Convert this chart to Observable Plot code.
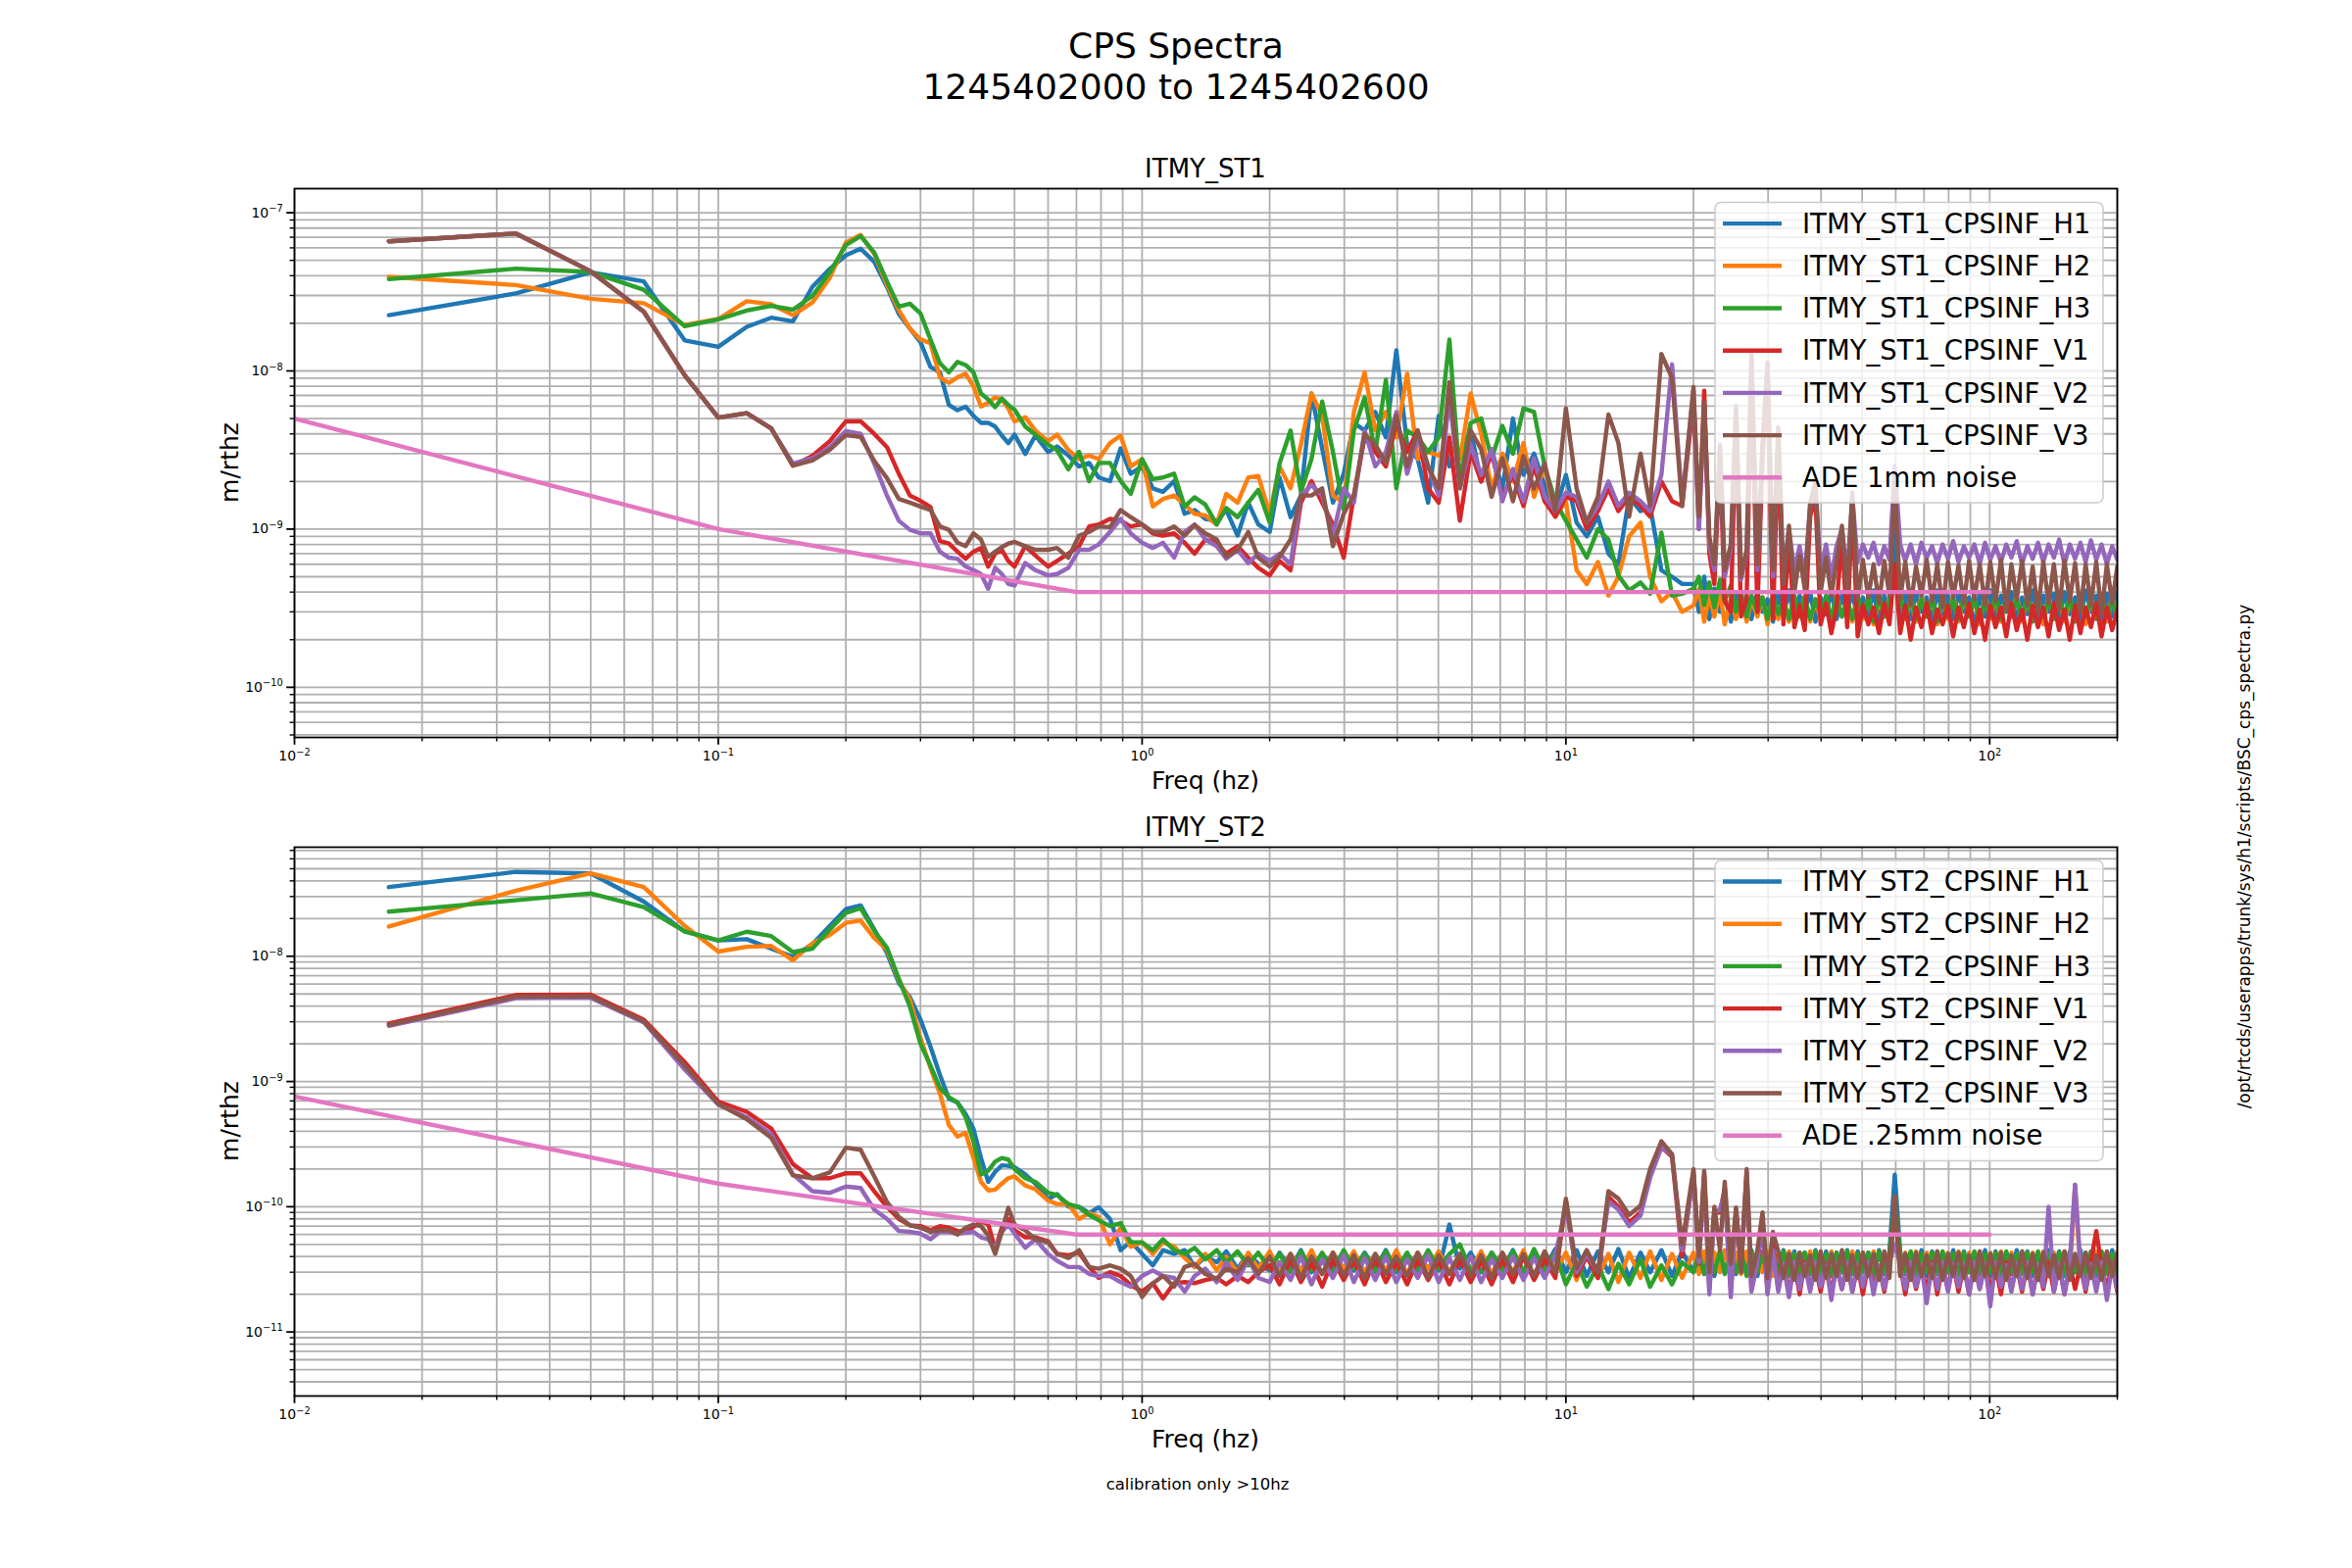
<!DOCTYPE html>
<html><head><meta charset="utf-8">
<script src="https://cdn.jsdelivr.net/npm/d3@7"></script>
<script src="https://cdn.jsdelivr.net/npm/@observablehq/plot@0.6"></script>
<style>
html,body{margin:0;padding:0;background:#fff;}
#fig{position:relative;width:2400px;height:1600px;background:#fff;font-family:"DejaVu Sans",sans-serif;overflow:hidden;}
#fig svg{position:absolute;left:0;}
#side{position:absolute;left:2290px;top:874px;transform:translate(-50%,-50%) rotate(-90deg);white-space:nowrap;font-size:17px;font-family:"DejaVu Sans",sans-serif;color:#000;}
</style></head><body><div id="fig"></div>
<script>
// ---------------- data (amplitudes in nm/rtHz) ----------------
const NM = 1e-9;
const freq = [0.0167,0.0333,0.05,0.0667,0.0833,0.1,0.1167,0.1333,0.15,0.1667,0.1833,0.2,0.2167,0.2333,0.25,0.2667,0.2833,0.3,0.3167,0.3333,0.35,0.3667,0.3833,0.4,0.4167,0.4333,0.45,0.4667,0.4833,0.5,
0.53,0.56,0.6,0.63,0.67,0.71,0.75,0.79,0.84,0.89,0.94,
1.0,1.06,1.12,1.19,1.26,1.33,1.41,1.5,1.58,1.68,1.78,1.88,
2.0,2.11,2.24,2.37,2.51,2.66,2.82,2.99,3.16,3.35,3.55,3.76,3.98,4.22,4.47,4.73,5.01,5.31,5.62,5.96,
6.31,6.68,7.08,7.5,7.94,8.41,8.91,9.44,
10.0,10.6,11.2,11.9,12.6,13.3,14.1,15.0,15.8,16.8,17.8,18.8,
20.0,20.6,21.2,21.8,22.4,23.1,23.7,24.5,25.2,25.9,
26.7,27.4,28.3,29.1,29.9,30.8,31.7,32.6,33.6,34.6,
35.6,36.6,37.7,38.8,39.9,41.1,42.3,43.5,44.8,46.1,
47.4,48.8,50.2,51.7,53.2,54.8,56.4,58.0,59.7,61.5,
63.2,65.1,67.0,69.0,71.0,73.1,75.2,77.4,79.7,82.0,
84.4,86.9,89.4,92.0,94.7,97.5,100.3,103.2,106.3,109.4,
112.5,115.8,119.2,122.7,126.3,130.0,133.8,137.7,141.7,145.8,
150.1,154.5,159.0,163.7,168.4,173.3,178.4,183.6,189.0,194.5,
200];

const st1H1 = [22.5,30.9,42,36.8,15.6,14.2,19,21.7,20.6,34,44.2,53.8,59.3,49,34,22.9,18.5,15.2,10.6,9.8,6.1,5.65,5.95,5.2,4.7,4.7,4.45,3.9,3.5,3.96,
2.99,3.9,3.08,3.33,2.92,2.49,2.62,2.12,2.01,3.24,2.24,
2.49,1.81,1.72,2.01,1.25,1.32,1.16,1.13,1.32,0.91,1.47,1.07,
0.96,2.12,1.19,1.63,7.2,3.24,1.47,2.24,4.7,4.2,5.5,3.8,13.5,3.42,2.77,1.47,5.2,2.49,3.08,4.2,
2.0,3.2,1.8,5.0,2.2,3.0,1.9,1.3,
2.2,1.1,0.9,1.2,0.7,0.6,1.6,1.3,1.4,0.55,0.5,0.45,
0.45,0.3,0.5,0.27,0.42,0.3,0.38,0.26,0.4,0.29,
0.37,0.27,0.4,0.3,0.36,0.26,0.39,0.28,0.41,0.27,
0.38,0.3,0.4,0.26,0.37,0.29,0.41,0.27,0.38,0.3,
0.4,0.27,0.37,0.29,0.41,0.26,0.38,0.3,1.0,0.28,
0.39,0.27,0.4,0.3,0.37,0.26,0.41,0.29,0.38,0.27,
0.4,0.3,0.37,0.24,0.39,0.28,0.41,0.27,0.38,0.3,
0.4,0.26,0.37,0.29,0.41,0.27,0.38,0.3,0.39,0.26,
0.4,0.29,0.37,0.27,0.41,0.3,0.38,0.26,0.39,0.28,
0.4];
const st1H2 = [39.3,34.9,28.6,26.8,19.5,21.3,27.6,26.4,22.5,27.1,38.8,64.9,72.4,55,35,24.2,18.5,15.8,15,9.1,8.4,9.1,9.6,8.0,5.96,6.3,6.8,6.6,5.8,4.8,
5.1,4.2,3.6,3.96,3.16,2.77,2.92,2.77,3.5,3.9,2.49,
2.77,1.39,1.55,1.63,1.43,1.25,1.22,1.07,1.67,1.47,2.12,2.17,
1.25,2.49,1.81,3.42,7.2,5.2,1.63,1.47,5.5,9.8,4.2,5.5,3.8,9.6,2.77,3.08,2.92,3.42,2.77,7.2,
4.0,1.8,3.0,2.0,3.5,1.6,2.5,1.2,
1.5,0.55,0.45,0.62,0.38,0.5,0.9,1.1,0.5,0.35,0.4,0.3,
0.33,0.42,0.26,0.38,0.28,0.4,0.25,0.36,0.27,0.38,
0.26,0.36,0.28,0.37,0.25,0.38,0.27,0.36,0.26,0.37,
0.28,0.38,0.26,0.36,0.27,0.37,0.25,0.38,0.28,0.36,
0.26,0.37,0.27,0.38,0.25,0.36,0.28,0.37,0.5,0.38,
0.27,0.36,0.26,0.38,0.28,0.37,0.25,0.36,0.27,0.38,
0.26,0.37,0.28,0.36,0.25,0.38,0.27,0.37,0.26,0.36,
0.28,0.38,0.26,0.37,0.27,0.36,0.25,0.38,0.28,0.37,
0.26,0.36,0.27,0.38,0.25,0.37,0.28,0.36,0.26,0.38,
0.27];
const st1H3 = [38,44.3,42.2,32.6,19.2,21.2,24.1,25.8,24.4,29.8,42,62.5,71.3,56,36.8,25.5,26.6,23.1,15.8,11.2,9.8,11.4,10.9,9.8,7.2,6.6,5.9,6.7,6.1,5.7,
4.45,3.96,3.42,3.16,2.39,3.08,2.01,2.62,2.62,2.01,1.67,
2.77,2.07,2.12,2.24,1.39,1.59,1.43,1.07,1.36,1.19,1.47,1.77,
1.1,2.6,4.2,1.72,2.77,6.4,3.08,1.32,4.2,6.8,3.08,8.8,1.81,4.2,3.8,3.08,3.8,15.8,2.01,4.7,
5.0,2.8,4.5,3.0,5.8,5.5,2.5,1.5,
1.13,0.86,0.66,1.0,0.86,0.51,0.41,0.46,0.39,0.95,0.38,0.39,
0.42,0.5,0.33,0.46,0.32,0.48,0.35,0.44,0.3,0.4,
0.28,0.38,0.3,0.37,0.27,0.38,0.29,0.36,0.27,0.38,
0.28,0.37,0.27,0.36,0.29,0.38,0.27,0.37,0.28,0.36,
0.27,0.38,0.28,0.37,0.26,0.38,0.28,0.36,0.6,0.37,
0.28,0.38,0.27,0.36,0.28,0.37,0.26,0.38,0.28,0.36,
0.27,0.38,0.28,0.37,0.26,0.36,0.28,0.38,0.27,0.37,
0.28,0.36,0.27,0.38,0.26,0.37,0.28,0.36,0.27,0.38,
0.28,0.37,0.26,0.38,0.28,0.36,0.27,0.37,0.28,0.36,
0.27];
const st1V1 = [66,74,42.6,23.7,9.4,5.07,5.4,4.33,2.52,2.9,3.6,4.8,4.8,4.0,3.3,2.24,1.63,1.51,1.38,0.84,0.81,0.72,0.65,0.72,0.76,0.58,0.70,0.74,0.63,0.58,
0.78,0.68,0.58,0.63,0.70,0.78,1.04,1.07,1.16,1.13,1.04,
1.07,0.94,0.91,0.94,0.82,0.70,0.86,0.82,0.70,0.78,0.66,0.57,
0.51,0.63,0.55,1.47,2.01,1.47,1.07,0.66,1.63,3.8,3.08,2.49,4.7,3.08,4.2,1.81,1.47,3.8,1.13,3.08,
2.0,3.0,1.6,2.2,1.4,2.5,1.5,1.2,
1.6,1.5,1.0,1.3,1.8,1.3,1.6,1.4,1.2,2.0,1.5,1.4,
6.5,1.0,7.5,0.7,0.45,2.8,0.35,0.3,5.0,0.28,
0.36,10,0.3,2.8,9.0,0.27,3.5,0.25,0.9,0.24,
0.33,0.23,1.2,1.6,0.25,0.34,0.22,0.32,0.9,0.24,
1.4,0.21,0.33,0.25,0.32,0.22,0.34,0.25,0.6,0.22,
0.33,0.2,0.32,0.24,0.34,0.22,0.31,0.25,0.33,0.21,
0.32,0.24,0.34,0.22,0.31,0.2,0.33,0.24,0.32,0.21,
0.34,0.23,0.31,0.2,0.33,0.24,0.32,0.21,0.34,0.23,
0.31,0.2,0.33,0.22,0.32,0.24,0.34,0.21,0.32,0.23,
0.31];
const st1V2 = [66,74,42.6,23.7,9.4,5.07,5.4,4.33,2.6,2.8,3.3,4.17,4.0,2.6,1.63,1.13,0.99,0.94,0.94,0.72,0.66,0.65,0.58,0.55,0.52,0.42,0.57,0.52,0.45,0.44,
0.61,0.55,0.51,0.52,0.57,0.74,0.74,0.80,0.96,1.16,0.94,
0.82,0.76,0.82,0.66,0.96,1.07,0.86,0.78,0.65,0.74,0.61,0.70,
0.63,0.70,0.60,1.63,1.9,1.63,0.91,1.81,1.47,4.2,2.49,3.08,5.5,2.24,3.8,2.49,1.63,6.7,1.81,3.42,
2.2,3.2,1.5,2.4,1.5,2.8,1.6,1.3,
1.7,1.6,1.1,1.4,2.0,1.4,1.7,1.5,1.3,2.2,11,1.5,
7.5,1.0,6.0,0.8,0.55,3.2,0.5,0.75,5.5,0.48,
0.72,12.0,0.55,3.2,11.0,0.5,4.2,0.5,1.0,0.55,
0.78,0.5,1.4,1.9,0.55,0.8,0.5,0.78,1.0,0.52,
1.6,0.62,0.8,0.66,0.82,0.6,0.78,0.64,2.5,0.8,
0.63,0.8,0.6,0.82,0.66,0.78,0.61,0.8,0.65,0.84,
0.62,0.78,0.66,0.8,0.6,0.82,0.64,0.78,0.62,0.8,
0.66,0.84,0.6,0.78,0.65,0.82,0.62,0.8,0.66,0.86,
0.6,0.8,0.65,0.82,0.62,0.85,0.64,0.8,0.6,0.78,
0.64];
const st1V3 = [66,74,42.6,23.7,9.4,5.07,5.4,4.33,2.52,2.72,3.18,3.93,3.83,2.7,2.1,1.55,1.47,1.39,1.32,1.04,0.99,0.82,0.78,0.94,0.86,0.67,0.72,0.77,0.81,0.83,
0.78,0.74,0.74,0.76,0.66,0.91,0.96,1.04,1.03,1.32,1.19,
1.07,0.96,0.96,1.04,0.91,1.06,0.94,0.86,0.67,0.74,0.96,0.66,
0.58,0.67,0.86,1.63,1.63,1.81,0.78,1.25,1.63,4.0,3.42,2.62,5.2,2.49,4.2,2.49,1.81,8.5,1.81,4.2,
3.2,1.6,2.8,1.5,2.9,1.8,2.6,1.3,
5.8,1.8,1.1,1.6,5.3,3.5,1.2,3.0,1.4,12.8,9.0,1.4,
7.9,1.2,6.3,0.9,0.6,3.4,0.55,0.8,6.0,0.5,
0.75,12.8,0.6,3.4,11.3,0.55,4.4,0.45,1.05,0.4,
0.68,0.42,1.47,2.0,0.4,0.66,0.38,0.62,1.05,0.4,
1.7,0.36,0.64,0.37,0.6,0.34,0.63,0.38,2.0,0.36,
0.62,0.33,0.58,0.38,0.64,0.35,0.6,0.32,0.62,0.37,
0.59,0.34,0.63,0.36,0.6,0.33,0.62,0.35,0.64,0.31,
0.6,0.36,0.63,0.33,0.58,0.3,0.62,0.34,0.6,0.31,
0.63,0.35,0.61,0.3,0.6,0.33,0.62,0.29,0.6,0.34,
0.58];

const st2H1 = [35.7,47.2,45.9,27.3,15.8,13.4,13.7,11.5,9.9,12.5,17.5,23.8,25.5,16.4,10.6,6.1,4.7,3.12,1.9,1.13,0.73,0.68,0.55,0.42,0.245,0.158,0.19,0.214,0.212,0.207,
0.181,0.153,0.115,0.126,0.10,0.10,0.089,0.099,0.080,0.045,0.053,
0.042,0.034,0.045,0.042,0.045,0.033,0.040,0.036,0.044,0.032,0.042,0.035,
0.031,0.043,0.032,0.045,0.030,0.042,0.033,0.044,0.031,0.043,0.032,0.045,0.030,0.042,0.033,0.044,0.031,0.072,0.032,0.043,
0.03,0.043,0.032,0.045,0.03,0.044,0.032,0.046,
0.03,0.045,0.028,0.044,0.03,0.046,0.027,0.043,0.03,0.045,0.028,0.044,
0.03,0.044,0.029,0.043,0.028,0.045,0.03,0.044,0.029,0.043,
0.03,0.045,0.028,0.044,0.03,0.043,0.029,0.045,0.03,0.044,
0.028,0.043,0.03,0.045,0.029,0.044,0.028,0.043,0.03,0.045,
0.029,0.044,0.03,0.043,0.028,0.045,0.029,0.044,0.18,0.043,
0.029,0.043,0.03,0.045,0.028,0.044,0.029,0.043,0.03,0.045,
0.028,0.044,0.03,0.043,0.029,0.045,0.028,0.044,0.03,0.043,
0.029,0.045,0.03,0.044,0.028,0.043,0.029,0.045,0.03,0.044,
0.028,0.043,0.03,0.045,0.029,0.044,0.028,0.043,0.03,0.045,
0.029];
const st2H2 = [17.3,33.4,45.9,35.7,17.5,10.9,11.9,12.1,9.3,12.7,14.8,18.5,19.3,14,11.3,6.4,4.5,2.22,1.29,0.80,0.45,0.364,0.389,0.245,0.158,0.135,0.137,0.153,0.169,0.175,
0.148,0.138,0.112,0.105,0.105,0.080,0.089,0.083,0.050,0.068,0.048,
0.052,0.042,0.052,0.048,0.039,0.033,0.042,0.031,0.040,0.030,0.043,0.032,
0.044,0.03,0.042,0.031,0.045,0.029,0.043,0.032,0.044,0.03,0.042,0.031,0.045,0.029,0.043,0.032,0.044,0.03,0.042,0.031,
0.044,0.029,0.043,0.03,0.045,0.028,0.044,0.03,
0.043,0.026,0.044,0.027,0.042,0.025,0.043,0.027,0.044,0.026,0.042,0.027,
0.043,0.029,0.044,0.028,0.043,0.03,0.045,0.028,0.043,0.029,
0.044,0.028,0.043,0.03,0.044,0.028,0.043,0.029,0.044,0.028,
0.043,0.03,0.044,0.028,0.043,0.029,0.044,0.028,0.043,0.03,
0.044,0.028,0.043,0.029,0.044,0.028,0.043,0.03,0.12,0.028,
0.043,0.029,0.044,0.028,0.043,0.03,0.044,0.028,0.043,0.029,
0.044,0.028,0.043,0.03,0.044,0.028,0.043,0.029,0.044,0.028,
0.043,0.03,0.044,0.028,0.043,0.029,0.044,0.028,0.043,0.03,
0.044,0.028,0.15,0.029,0.043,0.028,0.044,0.03,0.043,0.028,
0.044];
const st2H3 = [22.7,28,31.8,24.7,15.8,13.4,15.7,14.5,10.8,11.5,16.4,22.2,24.2,16,11.7,6.6,3.95,2.0,1.34,0.89,0.75,0.68,0.52,0.333,0.181,0.194,0.229,0.245,0.238,0.20,
0.169,0.158,0.129,0.124,0.105,0.099,0.086,0.078,0.070,0.074,0.052,
0.052,0.045,0.055,0.045,0.042,0.047,0.038,0.045,0.036,0.044,0.034,0.043,
0.032,0.042,0.03,0.044,0.031,0.043,0.03,0.045,0.032,0.042,0.03,0.044,0.031,0.043,0.03,0.045,0.032,0.042,0.05,0.031,
0.03,0.043,0.031,0.044,0.03,0.046,0.031,0.043,
0.024,0.036,0.023,0.034,0.022,0.035,0.024,0.038,0.023,0.034,0.024,0.036,
0.03,0.042,0.029,0.043,0.03,0.044,0.029,0.042,0.03,0.043,
0.028,0.044,0.03,0.042,0.029,0.043,0.03,0.044,0.028,0.042,
0.03,0.043,0.029,0.044,0.03,0.042,0.028,0.043,0.03,0.044,
0.029,0.042,0.03,0.043,0.028,0.044,0.03,0.042,0.11,0.043,
0.03,0.044,0.028,0.042,0.03,0.043,0.029,0.044,0.03,0.042,
0.028,0.043,0.03,0.044,0.029,0.042,0.03,0.043,0.028,0.044,
0.03,0.042,0.029,0.043,0.03,0.044,0.028,0.042,0.03,0.043,
0.029,0.044,0.03,0.042,0.028,0.043,0.03,0.044,0.029,0.042,
0.03];
const st2V1 = [2.91,4.91,4.94,3.12,1.43,0.69,0.573,0.422,0.219,0.169,0.169,0.185,0.185,0.133,0.10,0.080,0.071,0.070,0.065,0.070,0.068,0.064,0.063,0.069,0.076,0.073,0.046,0.068,0.080,0.065,
0.057,0.057,0.053,0.042,0.041,0.043,0.033,0.027,0.030,0.028,0.0237,
0.021,0.0245,0.0185,0.0245,0.025,0.0245,0.026,0.027,0.024,0.028,0.025,0.030,
0.034,0.024,0.038,0.025,0.036,0.023,0.038,0.026,0.037,0.024,0.039,0.025,0.036,0.024,0.038,0.026,0.037,0.024,0.038,0.025,
0.037,0.024,0.038,0.025,0.040,0.026,0.038,0.027,
0.11,0.028,0.040,0.027,0.12,0.10,0.075,0.090,0.18,0.30,0.25,0.040,
0.19,0.035,0.18,0.022,0.09,0.09,0.14,0.021,0.09,0.034,
0.18,0.022,0.036,0.07,0.021,0.05,0.022,0.034,0.021,0.035,
0.02,0.036,0.022,0.034,0.021,0.035,0.02,0.034,0.022,0.036,
0.021,0.034,0.02,0.035,0.022,0.034,0.021,0.036,0.09,0.034,
0.02,0.035,0.022,0.034,0.021,0.036,0.02,0.034,0.022,0.035,
0.021,0.034,0.02,0.036,0.022,0.035,0.021,0.034,0.02,0.036,
0.022,0.034,0.021,0.035,0.02,0.034,0.022,0.036,0.021,0.034,
0.02,0.035,0.022,0.034,0.021,0.036,0.064,0.034,0.022,0.035,
0.021];
const st2V2 = [2.78,4.62,4.66,2.97,1.25,0.656,0.518,0.381,0.181,0.133,0.129,0.145,0.141,0.095,0.080,0.064,0.063,0.061,0.055,0.063,0.063,0.061,0.062,0.063,0.057,0.055,0.047,0.063,0.072,0.061,
0.047,0.055,0.042,0.037,0.033,0.033,0.029,0.028,0.028,0.025,0.023,
0.028,0.031,0.028,0.027,0.021,0.028,0.032,0.025,0.036,0.026,0.038,0.027,
0.025,0.036,0.026,0.040,0.024,0.038,0.027,0.041,0.025,0.039,0.026,0.040,0.025,0.038,0.027,0.041,0.025,0.039,0.026,0.040,
0.025,0.038,0.027,0.040,0.026,0.039,0.027,0.041,
0.10,0.030,0.042,0.030,0.11,0.095,0.07,0.085,0.17,0.30,0.26,0.045,
0.18,0.036,0.17,0.02,0.09,0.095,0.13,0.019,0.098,0.035,
0.19,0.021,0.036,0.08,0.02,0.045,0.021,0.035,0.019,0.036,
0.022,0.035,0.021,0.036,0.023,0.034,0.018,0.035,0.022,0.036,
0.021,0.035,0.023,0.036,0.02,0.034,0.022,0.036,0.05,0.035,
0.022,0.036,0.023,0.034,0.017,0.035,0.022,0.036,0.021,0.035,
0.023,0.034,0.02,0.036,0.022,0.035,0.016,0.036,0.023,0.034,
0.021,0.035,0.022,0.036,0.02,0.034,0.023,0.10,0.021,0.035,
0.02,0.036,0.15,0.034,0.022,0.035,0.021,0.036,0.018,0.034,
0.022];
const st2V3 = [2.83,4.75,4.79,3.02,1.34,0.66,0.50,0.356,0.178,0.169,0.188,0.296,0.285,0.175,0.109,0.083,0.071,0.068,0.063,0.065,0.065,0.060,0.068,0.072,0.070,0.059,0.042,0.063,0.098,0.072,
0.065,0.055,0.052,0.042,0.039,0.045,0.033,0.032,0.034,0.032,0.028,
0.019,0.0245,0.028,0.023,0.033,0.035,0.029,0.0265,0.032,0.030,0.039,0.029,
0.040,0.028,0.042,0.027,0.040,0.029,0.043,0.028,0.041,0.027,0.042,0.029,0.040,0.028,0.043,0.027,0.041,0.029,0.042,0.028,
0.041,0.027,0.043,0.029,0.042,0.028,0.044,0.030,
0.116,0.032,0.045,0.030,0.133,0.116,0.086,0.102,0.20,0.333,0.263,0.050,
0.20,0.04,0.194,0.03,0.1,0.045,0.158,0.035,0.098,0.03,
0.20,0.028,0.045,0.09,0.027,0.063,0.044,0.027,0.042,0.026,
0.043,0.028,0.041,0.026,0.044,0.027,0.042,0.028,0.045,0.026,
0.041,0.027,0.043,0.028,0.042,0.026,0.044,0.027,0.12,0.028,
0.042,0.026,0.043,0.028,0.041,0.027,0.044,0.026,0.042,0.028,
0.043,0.027,0.041,0.026,0.044,0.028,0.042,0.027,0.043,0.026,
0.041,0.028,0.044,0.027,0.042,0.026,0.043,0.028,0.041,0.027,
0.044,0.026,0.042,0.028,0.043,0.027,0.041,0.026,0.044,0.028,
0.042];

const adeFreq = [0.01, 0.1, 0.7, 100];
const ade1mm = [5.0, 1.0, 0.4, 0.4];
const ade025mm = [0.76, 0.153, 0.06, 0.06];

const st1Names = ["ITMY_ST1_CPSINF_H1","ITMY_ST1_CPSINF_H2","ITMY_ST1_CPSINF_H3","ITMY_ST1_CPSINF_V1","ITMY_ST1_CPSINF_V2","ITMY_ST1_CPSINF_V3","ADE 1mm noise"];
const st2Names = ["ITMY_ST2_CPSINF_H1","ITMY_ST2_CPSINF_H2","ITMY_ST2_CPSINF_H3","ITMY_ST2_CPSINF_V1","ITMY_ST2_CPSINF_V2","ITMY_ST2_CPSINF_V3","ADE .25mm noise"];
const colors = ["#1f77b4","#ff7f0e","#2ca02c","#d62728","#9467bd","#8c564b","#e377c2"];

const xMajorTicks = [0.01, 0.1, 1, 10, 100];
const st1YMajorTicks = [1e-10, 1e-9, 1e-8, 1e-7];
const st2YMajorTicks = [1e-11, 1e-10, 1e-9, 1e-8];
const st1YDomain = [4.82e-11, 1.42e-7];
const st2YDomain = [3.08e-12, 7.43e-8];

// ---------------- helpers ----------------
[st1H1,st1H2,st1H3,st1V1,st1V2,st1V3,st2H1,st2H2,st2H3,st2V1,st2V2,st2V3].forEach((a, i) => {
  if (a.length !== freq.length) console.error("length mismatch", i, a.length, freq.length);
});

function decadeTicks(lo, hi) {
  const out = [];
  for (let e = Math.floor(Math.log10(lo)); e <= Math.ceil(Math.log10(hi)); e++)
    for (let m = 1; m <= 9; m++) { const v = m * Math.pow(10, e); if (v >= lo * 0.9999 && v <= hi * 1.0001) out.push(v); }
  return out;
}
const fmtPow = d => "10^" + Math.round(Math.log10(d));
const isMajor = (v, majors) => majors.some(m => Math.abs(m - v) / m < 1e-6);

function superscriptTicks(svg) {
  d3.select(svg).selectAll("text").each(function () {
    const m = /^10\^(-?\d+)$/.exec(this.textContent);
    if (!m) return;
    const t = d3.select(this);
    t.text(null);
    t.append("tspan").text("10");
    t.append("tspan").attr("dy", "-0.55em").attr("font-size", "0.7em").text(m[1].replace("-", "\u2212"));
  });
}

function panel({vals, ade, yDomain, yMajor, height, top, bottom}) {
  const xAll = decadeTicks(0.01, 200);
  const yAll = decadeTicks(yDomain[0], yDomain[1]);
  const xMinor = xAll.filter(v => !isMajor(v, xMajorTicks));
  const yMinor = yAll.filter(v => !isMajor(v, yMajor));
  const lines = vals.map((arr, i) => Plot.line(freq.map((f, j) => ({f, v: arr[j] * NM})),
    {x: "f", y: "v", stroke: colors[i], strokeWidth: 4.4, strokeLinejoin: "round", clip: true}));
  const adeLine = Plot.line(adeFreq.map((f, j) => ({f, v: ade[j] * NM})),
    {x: "f", y: "v", stroke: colors[6], strokeWidth: 4.4, strokeLinejoin: "round", clip: true});
  const svg = Plot.plot({
    width: 2400, height,
    marginLeft: 300, marginRight: 240, marginTop: top, marginBottom: height - bottom,
    x: {type: "log", domain: [0.01, 200]},
    y: {type: "log", domain: yDomain},
    style: {background: "transparent", fontFamily: "DejaVu Sans", fontSize: "14px", color: "black", overflow: "visible"},
    marks: [
      Plot.ruleX(xAll, {stroke: "#b0b0b0", strokeWidth: 1.8}),
      Plot.ruleY(yAll, {stroke: "#b0b0b0", strokeWidth: 1.8}),
      ...lines,
      adeLine,
      Plot.axisX(xMajorTicks, {tickSize: 7.8, tickPadding: 6, tickFormat: fmtPow, label: null, strokeWidth: 1.8, fontSize: 14}),
      Plot.axisX(xMinor, {tickSize: 4.4, tickPadding: 6, tickFormat: () => "", label: null, strokeWidth: 1.4}),
      Plot.axisY(yMajor, {tickSize: 7.8, tickPadding: 4, tickFormat: fmtPow, label: null, strokeWidth: 1.8, fontSize: 14}),
      Plot.axisY(yMinor, {tickSize: 4.4, tickPadding: 4, tickFormat: () => "", label: null, strokeWidth: 1.4}),
      Plot.frame({stroke: "black", strokeWidth: 1.8})
    ]
  });
  superscriptTicks(svg);
  return svg;
}

function addText(sel, x, y, str, size, opts = {}) {
  const t = sel.append("text").attr("x", x).attr("y", y).attr("font-size", size)
    .attr("font-family", "DejaVu Sans").attr("fill", "black")
    .attr("text-anchor", opts.anchor || "middle").text(str);
  if (opts.rotate) t.attr("transform", `rotate(-90 ${x} ${y})`).attr("dominant-baseline", "central");
  return t;
}

function legend(sel, names, y0) {
  const g = sel.append("g");
  g.append("rect").attr("x", 1750).attr("y", y0).attr("width", 396).attr("height", 306.5).attr("rx", 6)
    .attr("fill", "white").attr("fill-opacity", 0.8).attr("stroke", "#cccccc").attr("stroke-width", 1.5);
  names.forEach((n, i) => {
    const cy = y0 + 21.5 + i * 43.2;
    g.append("line").attr("x1", 1758).attr("x2", 1818).attr("y1", cy).attr("y2", cy)
      .attr("stroke", colors[i]).attr("stroke-width", 4.4);
    g.append("text").attr("x", 1839).attr("y", cy).attr("dy", "0.35em").attr("text-anchor", "start")
      .attr("font-size", 27.5).attr("font-family", "DejaVu Sans").attr("fill", "black").text(n);
  });
}

// ---------------- build ----------------
const fig = document.getElementById("fig");

const topSvg = panel({vals: [st1H1, st1H2, st1H3, st1V1, st1V2, st1V3], ade: ade1mm,
  yDomain: st1YDomain, yMajor: st1YMajorTicks, height: 830, top: 192, bottom: 752});
topSvg.style.top = "0px";
fig.appendChild(topSvg);
const ts = d3.select(topSvg);
addText(ts, 1200, 59, "CPS Spectra", 36);
addText(ts, 1200, 101, "1245402000 to 1245402600", 36);
addText(ts, 1230, 181, "ITMY_ST1", 26);
addText(ts, 1230, 805, "Freq (hz)", 25);
addText(ts, 234, 472, "m/rthz", 25, {rotate: true});
legend(ts, st1Names, 206.6);

const botSvg = panel({vals: [st2H1, st2H2, st2H3, st2V1, st2V2, st2V3], ade: ade025mm,
  yDomain: st2YDomain, yMajor: st2YMajorTicks, height: 770, top: 34, bottom: 594});
botSvg.style.top = "830px";
fig.appendChild(botSvg);
const bs = d3.select(botSvg);
addText(bs, 1230, 23, "ITMY_ST2", 26);
addText(bs, 1230, 647, "Freq (hz)", 25);
addText(bs, 234, 314, "m/rthz", 25, {rotate: true});
addText(bs, 1222, 690, "calibration only >10hz", 16.5);
legend(bs, st2Names, 48);

const side = document.createElement("div");
side.id = "side";
side.textContent = "/opt/rtcds/userapps/trunk/sys/h1/scripts/BSC_cps_spectra.py";
fig.appendChild(side);
</script></body></html>
